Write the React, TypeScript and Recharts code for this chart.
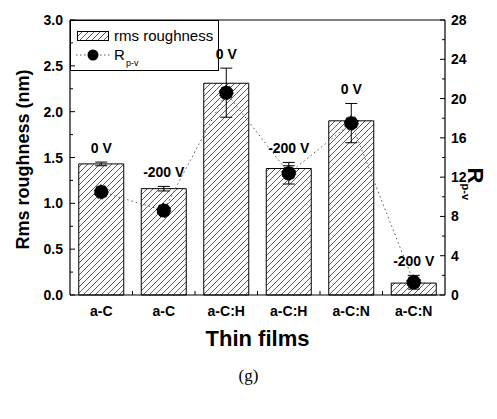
import React from 'react';
import {
  ComposedChart, Bar, Line, XAxis, YAxis, ErrorBar, LabelList, Label, Legend, ReferenceLine,
} from 'recharts';

const films = ['a-C', 'a-C', 'a-C:H', 'a-C:H', 'a-C:N', 'a-C:N'];
const biasLabels = ['0 V', '-200 V', '0 V', '-200 V', '0 V', '-200 V'];
const rmsRoughness = [1.43, 1.16, 2.31, 1.38, 1.9, 0.13];
const rmsError = [0.02, 0.025, 0, 0.03, 0, 0.02];
const rpv = [10.5, 8.6, 20.6, 12.4, 17.5, 1.3];
const rpvError = [0, 0, 2.5, 1.1, 2.0, 0.7];
const leftTicks = [0, 0.25, 0.5, 0.75, 1, 1.25, 1.5, 1.75, 2, 2.25, 2.5, 2.75, 3];
const rightTicks = [0, 2, 4, 6, 8, 10, 12, 14, 16, 18, 20, 22, 24, 26, 28];
const LEFT_MAX = 3;
const RIGHT_MAX = 28;

const data = films.map((f, i) => ({
  film: f,
  bias: biasLabels[i],
  rms: rmsRoughness[i],
  rmsErr: rmsError[i],
  rpv: rpv[i],
  rpvErr: rpvError[i],
  labelTop: Math.max(rmsRoughness[i] + rmsError[i], ((rpv[i] + rpvError[i]) * LEFT_MAX) / RIGHT_MAX),
}));

const FONT = '"Liberation Sans", Arial, Helvetica, sans-serif';

const LeftTick = (props: any) => {
  const { x, y, payload } = props;
  const v = payload.value;
  const major = Math.abs(v * 2 - Math.round(v * 2)) < 1e-6;
  return (
    <g>
      <line x1={x} x2={x + (major ? 5 : 3)} y1={y} y2={y} stroke="#000" strokeWidth={1} />
      {major && (
        <text x={x - 7} y={y + 5} textAnchor="end" fontFamily={FONT} fontWeight="bold" fontSize={14} fill="#000">
          {v.toFixed(1)}
        </text>
      )}
    </g>
  );
};

const RightTick = (props: any) => {
  const { x, y, payload } = props;
  const v = payload.value;
  const major = v % 4 === 0;
  return (
    <g>
      <line x1={x} x2={x - (major ? 5 : 3)} y1={y} y2={y} stroke="#000" strokeWidth={1} />
      {major && (
        <text x={x + 6} y={y + 5} textAnchor="start" fontFamily={FONT} fontWeight="bold" fontSize={14} fill="#000">
          {v}
        </text>
      )}
    </g>
  );
};

const BottomTick = (props: any) => {
  const { x, y, payload, index } = props;
  const half = payload.offset || 0;
  return (
    <g>
      {index < films.length - 1 && half > 0 && (
        <line x1={x + half} x2={x + half} y1={y} y2={y - 4} stroke="#000" strokeWidth={1} />
      )}
      <text x={x} y={y + 21} textAnchor="middle" fontFamily={FONT} fontWeight="bold" fontSize={14} fill="#000">
        {payload.value}
      </text>
    </g>
  );
};

const BiasLabel = (props: any) => {
  const { x, y, value } = props;
  return (
    <text x={x} y={y - 9} textAnchor="middle" fontFamily={FONT} fontWeight="bold" fontSize={14} fill="#000">
      {value}
    </text>
  );
};

const LegendBox = () => (
  <svg width={149} height={51} style={{ display: 'block' }}>
    <defs>
      <pattern id="hatchLegend" patternUnits="userSpaceOnUse" width={6} height={6}>
        <path d="M0,6 L6,0 M-1,1 L1,-1 M5,7 L7,5" stroke="#333" strokeWidth={0.8} />
      </pattern>
    </defs>
    <rect x={0.5} y={0.5} width={148} height={50} fill="none" stroke="#000" strokeWidth={1} />
    <rect x={7.5} y={11.5} width={31} height={9} fill="url(#hatchLegend)" stroke="#000" strokeWidth={1} />
    <text x={44} y={21} fontFamily={FONT} fontSize={15} fill="#000">rms roughness</text>
    <line x1={6} x2={40} y1={35} y2={35} stroke="#555" strokeWidth={1} strokeDasharray="1.5 2.5" />
    <circle cx={23} cy={35} r={5.5} fill="#000" />
    <text x={44} y={40} fontFamily={FONT} fontSize={15} fill="#000">R</text>
    <text x={56} y={46} fontFamily={FONT} fontSize={9} fill="#000">p-v</text>
  </svg>
);

const LeftTitle = (props: any) => {
  const { viewBox } = props;
  const cx = viewBox.x + 13;
  const cy = viewBox.y + viewBox.height / 2 + 2;
  return (
    <text x={cx} y={cy} transform={`rotate(-90 ${cx} ${cy})`} textAnchor="middle" dominantBaseline="central"
      fontFamily={FONT} fontWeight="bold" fontSize={18} fill="#000">
      Rms roughness (nm)
    </text>
  );
};

const RightTitle = (props: any) => {
  const { viewBox } = props;
  const cx = viewBox.x + 30;
  const cy = viewBox.y + viewBox.height / 2 + 24;
  return (
    <g transform={`translate(${cx} ${cy}) rotate(90)`}>
      <text x={-14} y={7} fontFamily={FONT} fontWeight="bold" fontSize={22} fill="#000">R</text>
      <text x={2} y={13} fontFamily={FONT} fontWeight="bold" fontSize={11} fill="#000">p-v</text>
    </g>
  );
};

const BottomTitle = (props: any) => {
  const { viewBox } = props;
  return (
    <text x={viewBox.x + viewBox.width / 2} y={viewBox.y + 51} textAnchor="middle"
      fontFamily={FONT} fontWeight="bold" fontSize={22} fill="#000">
      Thin films
    </text>
  );
};

export default function App() {
  return (
    <div style={{ position: 'absolute', left: 0, top: 0, width: 497, height: 419, background: '#fff' }}>
      <ComposedChart
        width={497}
        height={419}
        data={data}
        margin={{ top: 20, right: 12, bottom: 74, left: 10 }}
        barCategoryGap="14%"
      >
        <defs>
          <pattern id="hatchBar" patternUnits="userSpaceOnUse" width={6} height={6}>
            <path d="M0,6 L6,0 M-1,1 L1,-1 M5,7 L7,5" stroke="#333" strokeWidth={0.8} />
          </pattern>
        </defs>
        <XAxis
          dataKey="film"
          height={50}
          interval={0}
          tickSize={0}
          tickMargin={0}
          tickLine={false}
          tick={<BottomTick />}
          axisLine={{ stroke: '#000', strokeWidth: 1.2 }}
        >
          <Label content={<BottomTitle />} />
        </XAxis>
        <YAxis
          yAxisId="left"
          orientation="left"
          width={60}
          domain={[0, LEFT_MAX]}
          ticks={leftTicks}
          interval={0}
          tickSize={0}
          tickMargin={0}
          tickLine={false}
          tick={<LeftTick />}
          axisLine={{ stroke: '#000', strokeWidth: 1.2 }}
        >
          <Label content={<LeftTitle />} />
        </YAxis>
        <YAxis
          yAxisId="right"
          orientation="right"
          width={40}
          domain={[0, RIGHT_MAX]}
          ticks={rightTicks}
          interval={0}
          tickSize={0}
          tickMargin={0}
          tickLine={false}
          tick={<RightTick />}
          axisLine={{ stroke: '#000', strokeWidth: 1.2 }}
        >
          <Label content={<RightTitle />} />
        </YAxis>
        <ReferenceLine yAxisId="left" y={LEFT_MAX} stroke="#000" strokeWidth={1.2} />
        <Legend
          layout="horizontal"
          verticalAlign="middle"
          align="center"
          content={<LegendBox />}
          wrapperStyle={{ position: 'absolute', left: 70, top: 20, width: 149, height: 51 }}
        />
        <Bar yAxisId="left" dataKey="rms" fill="url(#hatchBar)" stroke="#000" strokeWidth={1} isAnimationActive={false}>
          <ErrorBar dataKey="rmsErr" width={6} stroke="#000" strokeWidth={1} />
        </Bar>
        <Line
          yAxisId="right"
          dataKey="rpv"
          stroke="#555"
          strokeWidth={1}
          strokeDasharray="1.5 3"
          dot={{ r: 7, fill: '#000', stroke: '#000', strokeWidth: 1 }}
          isAnimationActive={false}
        >
          <ErrorBar dataKey="rpvErr" width={6} stroke="#000" strokeWidth={1} />
        </Line>
        <Line
          yAxisId="left"
          dataKey="labelTop"
          stroke="none"
          dot={false}
          activeDot={false}
          legendType="none"
          isAnimationActive={false}
        >
          <LabelList dataKey="bias" content={<BiasLabel />} />
        </Line>
      </ComposedChart>
      <div style={{ position: 'absolute', left: 0, width: 497, top: 366, textAlign: 'center', fontFamily: '"Liberation Serif", "DejaVu Serif", serif', fontSize: 17 }}>
        (g)
      </div>
    </div>
  );
}
